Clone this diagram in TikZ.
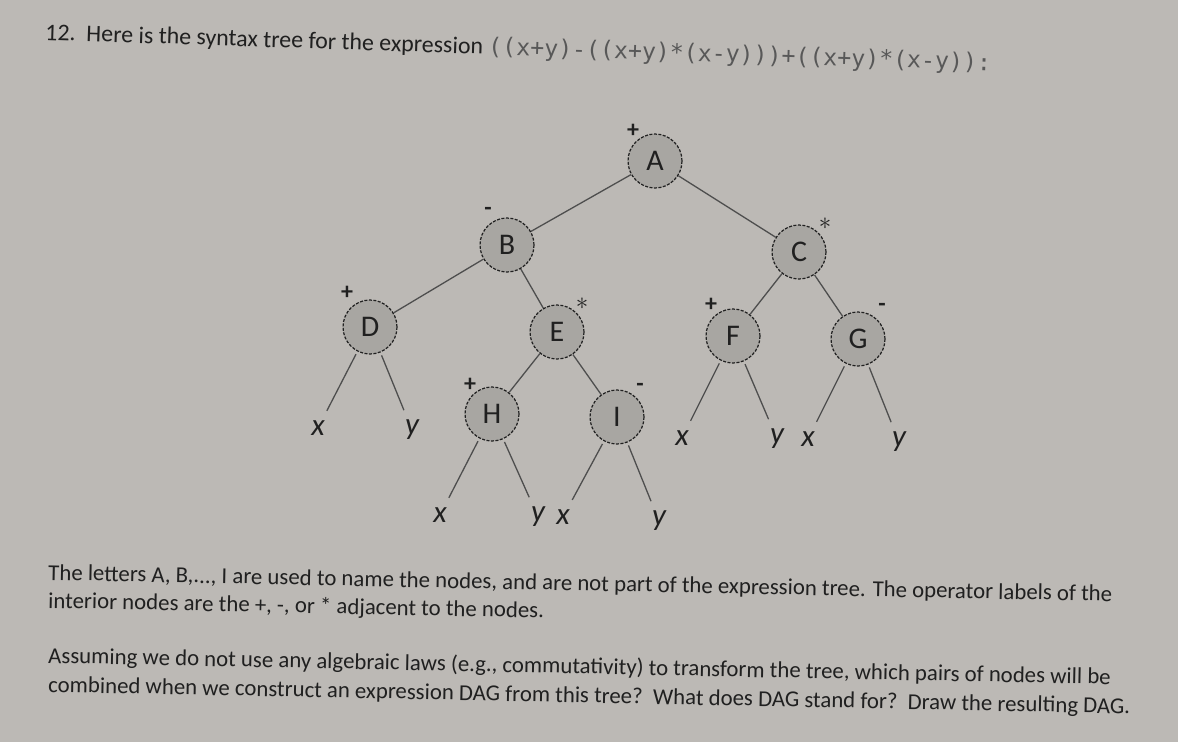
\documentclass[tikz,border=0pt]{standalone}
\usepackage{fontspec}
\setmainfont{Carlito}
\newfontfamily\monof{DejaVu Sans Mono}
\definecolor{paper}{RGB}{188,185,181}
\definecolor{nodefill}{RGB}{168,166,162}
\definecolor{ink}{RGB}{32,32,32}
\definecolor{edgecol}{RGB}{78,78,78}
\definecolor{monocol}{RGB}{88,88,88}
\tikzset{
  tnode/.style={circle, draw=ink, dash pattern=on 3pt off 1.5pt, line width=1.2pt,
    fill=nodefill, minimum size=54pt, inner sep=0pt, text=ink,
    font=\fontsize{30}{32}\selectfont},
  treeedge/.style={draw=edgecol, line width=1.3pt},
  leafedge/.style={draw=edgecol, line width=1.3pt, shorten >=4pt, shorten <=3pt},
  leaf/.style={font=\fontsize{31}{33}\selectfont\itshape, text=ink, inner sep=6pt},
  opl/.style={font=\fontsize{24}{26}\selectfont\bfseries, text=ink, inner sep=0pt},
  bodytext/.style={font=\fontsize{22.8}{24}\selectfont, text=ink, anchor=base west, inner sep=0pt, rotate=-1.15}
}
\begin{document}
\begin{tikzpicture}[x=1pt,y=-1pt]
\useasboundingbox (0,0) rectangle (1178,742);
\fill[paper] (0,0) rectangle (1178,742);
% title
\node[bodytext, rotate=-0.7, font=\fontsize{23.9}{25}\selectfont] (title) at (45,40) {12.\ \ Here is the syntax tree for the expression\ {\monof\color{monocol}\fontsize{23.2}{24}\selectfont ((x+y)-((x+y)*(x-y)))+((x+y)*(x-y)):}};
% tree nodes
\node[tnode] (A) at (655,161) {A};
\node[tnode] (B) at (507,245) {B};
\node[tnode] (C) at (799,252) {C};
\node[tnode] (D) at (370,327) {D};
\node[tnode] (E) at (557,332) {E};
\node[tnode] (F) at (733,336) {F};
\node[tnode] (G) at (858,339) {G};
\node[tnode] (H) at (492,414) {H};
\node[tnode] (I) at (617,417) {I};
% operator labels
\node[opl] (Aop) at (633,131) {+};
\node[opl] (Bop) at (488,211) {-};
\node[opl] (Cop) at (825,224) {$\ast$};
\node[opl] (Dop) at (347,293) {+};
\node[opl] (Eop) at (582,304) {$\ast$};
\node[opl] (Fop) at (711,305) {+};
\node[opl] (Gop) at (882,307) {-};
\node[opl] (Hop) at (470,385) {+};
\node[opl] (Iop) at (640,387) {-};
% leaves
\node[leaf] (Dx) at (318,428) {x};
\node[leaf] (Dy) at (412,430) {y};
\node[leaf] (Hx) at (440,515) {x};
\node[leaf] (Hy) at (538,517) {y};
\node[leaf] (Ix) at (563,517) {x};
\node[leaf] (Iy) at (659,521) {y};
\node[leaf] (Fx) at (682,438) {x};
\node[leaf] (Fy) at (777,439) {y};
\node[leaf] (Gx) at (808,439) {x};
\node[leaf] (Gy) at (899,442) {y};
% edges
\draw[treeedge] (A) -- (B);
\draw[treeedge] (A) -- (C);
\draw[treeedge] (B) -- (D);
\draw[treeedge] (B) -- (E);
\draw[treeedge] (C) -- (F);
\draw[treeedge] (C) -- (G);
\draw[treeedge] (E) -- (H);
\draw[treeedge] (E) -- (I);
\draw[leafedge] (D) -- (Dx);
\draw[leafedge] (D) -- (Dy);
\draw[leafedge] (H) -- (Hx);
\draw[leafedge] (H) -- (Hy);
\draw[leafedge] (I) -- (Ix);
\draw[leafedge] (I) -- (Iy);
\draw[leafedge] (F) -- (Fx);
\draw[leafedge] (F) -- (Fy);
\draw[leafedge] (G) -- (Gx);
\draw[leafedge] (G) -- (Gy);
% body text
\node[bodytext] (p1) at (48,580) {The letters A, B,..., I are used to name the nodes, and are not part of the expression tree. The operator labels of the};
\node[bodytext] (p2) at (48,608) {interior nodes are the +, -, or * adjacent to the nodes.};
\node[bodytext] (p3) at (48,663) {Assuming we do not use any algebraic laws (e.g., commutativity) to transform the tree, which pairs of nodes will be};
\node[bodytext] (p4) at (48,692) {combined when we construct an expression DAG from this tree?\ \ What does DAG stand for?\ \ Draw the resulting DAG.};
\end{tikzpicture}
\end{document}
